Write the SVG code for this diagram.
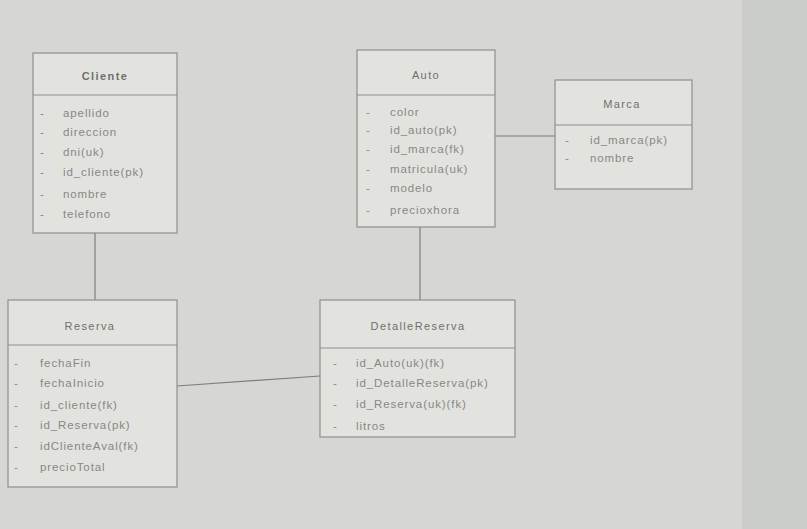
<svg xmlns="http://www.w3.org/2000/svg" width="807" height="529" viewBox="0 0 807 529">
<style>
.box{fill:#e2e3df;stroke:#8e908d;stroke-width:1.2}
.sep{stroke:#8e908d;stroke-width:1.2}
.title{font-family:"Liberation Sans",Arial,sans-serif;font-size:11px;letter-spacing:1.4px;fill:#6e706d;text-anchor:middle}
.attr{font-family:"Liberation Sans",Arial,sans-serif;font-size:11.5px;letter-spacing:0.9px;fill:#868885}
.conn{stroke:#7d7f7c;stroke-width:1.2;fill:none}
</style>
<rect x="0" y="0" width="807" height="529" fill="#d6d7d3"/>
<rect x="742" y="0" width="65" height="529" fill="#cacdca"/>
<g id="connectors">
<line class="conn" x1="95" y1="233" x2="95" y2="300"/>
<line class="conn" x1="495" y1="136" x2="555" y2="136"/>
<line class="conn" x1="420" y1="227" x2="420" y2="300"/>
<line class="conn" x1="177" y1="386" x2="320" y2="376"/>
</g>
<g id="Cliente">
<rect class="box" x="33" y="53" width="144" height="180"/>
<line class="sep" x1="33" y1="95" x2="177" y2="95"/>
<text class="title" x="105" y="80" font-weight="bold" letter-spacing="0.6">Cliente</text>
<text class="attr" x="40" y="117">-</text><text class="attr" x="63" y="117">apellido</text>
<text class="attr" x="40" y="136">-</text><text class="attr" x="63" y="136">direccion</text>
<text class="attr" x="40" y="156">-</text><text class="attr" x="63" y="156">dni(uk)</text>
<text class="attr" x="40" y="176">-</text><text class="attr" x="63" y="176">id_cliente(pk)</text>
<text class="attr" x="40" y="198">-</text><text class="attr" x="63" y="198">nombre</text>
<text class="attr" x="40" y="218">-</text><text class="attr" x="63" y="218">telefono</text>
</g>
<g id="Auto">
<rect class="box" x="357" y="50" width="138" height="177"/>
<line class="sep" x1="357" y1="95" x2="495" y2="95"/>
<text class="title" x="426" y="79">Auto</text>
<text class="attr" x="366" y="116">-</text><text class="attr" x="390" y="116">color</text>
<text class="attr" x="366" y="134">-</text><text class="attr" x="390" y="134">id_auto(pk)</text>
<text class="attr" x="366" y="153">-</text><text class="attr" x="390" y="153">id_marca(fk)</text>
<text class="attr" x="366" y="173">-</text><text class="attr" x="390" y="173">matricula(uk)</text>
<text class="attr" x="366" y="192">-</text><text class="attr" x="390" y="192">modelo</text>
<text class="attr" x="366" y="214">-</text><text class="attr" x="390" y="214">precioxhora</text>
</g>
<g id="Marca">
<rect class="box" x="555" y="80" width="137" height="109"/>
<line class="sep" x1="555" y1="125" x2="692" y2="125"/>
<text class="title" x="622" y="108">Marca</text>
<text class="attr" x="565" y="144">-</text><text class="attr" x="590" y="144">id_marca(pk)</text>
<text class="attr" x="565" y="162">-</text><text class="attr" x="590" y="162">nombre</text>
</g>
<g id="Reserva">
<rect class="box" x="8" y="300" width="169" height="187"/>
<line class="sep" x1="8" y1="345" x2="177" y2="345"/>
<text class="title" x="90" y="330">Reserva</text>
<text class="attr" x="14" y="367">-</text><text class="attr" x="40" y="367">fechaFin</text>
<text class="attr" x="14" y="387">-</text><text class="attr" x="40" y="387">fechaInicio</text>
<text class="attr" x="14" y="409">-</text><text class="attr" x="40" y="409">id_cliente(fk)</text>
<text class="attr" x="14" y="429">-</text><text class="attr" x="40" y="429">id_Reserva(pk)</text>
<text class="attr" x="14" y="450">-</text><text class="attr" x="40" y="450">idClienteAval(fk)</text>
<text class="attr" x="14" y="471">-</text><text class="attr" x="40" y="471">precioTotal</text>
</g>
<g id="DetalleReserva">
<rect class="box" x="320" y="300" width="195" height="137"/>
<line class="sep" x1="320" y1="348" x2="515" y2="348"/>
<text class="title" x="418" y="330">DetalleReserva</text>
<text class="attr" x="333" y="367">-</text><text class="attr" x="356" y="367">id_Auto(uk)(fk)</text>
<text class="attr" x="333" y="387">-</text><text class="attr" x="356" y="387">id_DetalleReserva(pk)</text>
<text class="attr" x="333" y="408">-</text><text class="attr" x="356" y="408">id_Reserva(uk)(fk)</text>
<text class="attr" x="333" y="430">-</text><text class="attr" x="356" y="430">litros</text>
</g>
</svg>
